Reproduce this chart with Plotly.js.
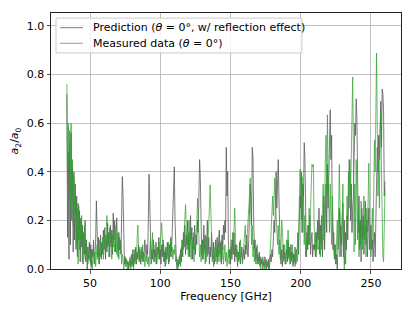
<!DOCTYPE html>
<html>
<head>
<meta charset="utf-8">
<script src="https://cdn.plot.ly/plotly-3.0.1.min.js"></script>
<style>html,body{margin:0;padding:0;background:#fff;}#chart{width:415px;height:311px;}</style>
</head>
<body>
<div id="chart"></div>
<script>
// Frequency grid: 33.5 GHz to 260 GHz, 0.5 GHz step
const freqStart = 33.5;
const freqStep = 0.5;

// Prediction (theta = 0 deg, w/ reflection effect), a2/a0
const prediction = [
  0.72,0.13,0.48,0.04,0.52,0.10,0.56,0.20,0.42,0.07,0.40,0.12,0.35,
  0.08,0.30,0.05,0.27,0.12,0.24,0.03,0.21,0.09,0.18,0.02,0.15,0.06,0.20,0.03,0.12,0.00,0.09,0.04,0.11,
  0.03,0.10,0.01,0.08,0.05,0.12,0.02,0.06,0.12,0.28,0.20,0.05,0.13,0.02,0.08,0.14,0.04,0.11,0.06,0.16,
  0.08,0.17,0.04,0.14,0.07,0.19,0.10,0.15,0.05,0.18,0.09,0.16,0.06,0.23,0.12,0.20,0.07,0.17,0.21,0.10,
  0.05,0.15,0.08,0.12,0.06,0.22,0.38,0.30,0.08,0.02,0.05,0.01,0.04,0.02,0.03,0.00,0.02,0.04,0.01,0.06,
  0.02,0.08,0.01,0.06,0.03,0.09,0.02,0.07,0.04,0.10,0.03,0.08,0.02,0.06,0.09,0.03,0.07,0.05,0.12,0.08,
  0.05,0.10,0.06,0.20,0.39,0.28,0.06,0.02,0.08,0.04,0.12,0.03,0.08,0.05,0.11,0.02,0.09,0.06,0.13,0.04,
  0.08,0.02,0.10,0.05,0.12,0.03,0.07,0.01,0.09,0.04,0.11,0.06,0.02,0.10,0.05,0.13,0.07,0.15,0.25,0.38,
  0.42,0.20,0.06,0.03,0.00,0.04,0.01,0.05,0.02,0.08,0.03,0.12,0.05,0.15,0.09,0.18,0.06,0.14,0.10,0.20,
  0.08,0.15,0.05,0.22,0.12,0.17,0.04,0.13,0.08,0.18,0.06,0.14,0.10,0.20,0.15,0.32,0.45,0.38,0.15,0.06,
  0.12,0.04,0.18,0.08,0.14,0.03,0.10,0.20,0.06,0.13,0.02,0.09,0.05,0.15,0.08,0.04,0.11,0.02,0.07,0.12,
  0.05,0.13,0.03,0.09,0.16,0.06,0.11,0.02,0.14,0.08,0.18,0.12,0.20,0.15,0.50,0.30,0.40,0.12,0.05,0.08,
  0.02,0.09,0.04,0.12,0.06,0.15,0.03,0.10,0.05,0.08,0.01,0.07,0.04,0.11,0.02,0.06,0.09,0.03,0.05,0.08,
  0.04,0.10,0.06,0.14,0.08,0.05,0.12,0.20,0.35,0.30,0.18,0.50,0.46,0.20,0.08,0.12,0.04,0.09,0.02,0.06,
  0.03,0.07,0.01,0.05,0.02,0.04,0.00,0.03,0.01,0.05,0.02,0.00,0.03,0.01,0.04,0.00,0.02,0.06,0.03,0.08,
  0.05,0.12,0.20,0.15,0.32,0.40,0.25,0.38,0.45,0.30,0.12,0.05,0.02,0.08,0.01,0.10,0.04,0.07,0.02,0.05,
  0.08,0.03,0.12,0.05,0.09,0.02,0.10,0.04,0.07,0.01,0.06,0.03,0.09,0.02,0.05,0.08,0.15,0.06,0.20,0.30,
  0.25,0.40,0.15,0.35,0.30,0.52,0.45,0.20,0.05,0.15,0.08,0.18,0.10,0.22,0.06,0.12,0.15,0.05,0.10,0.08,
  0.10,0.05,0.15,0.08,0.20,0.12,0.25,0.06,0.18,0.10,0.22,0.05,0.15,0.30,0.08,0.20,0.35,0.15,0.43,0.25,
  0.35,0.50,0.655,0.45,0.55,0.20,0.08,0.15,0.04,0.10,0.02,0.06,0.00,0.08,0.12,0.25,0.05,0.18,0.10,0.22,
  0.27,0.05,0.20,0.02,0.15,0.08,0.22,0.12,0.30,0.45,0.40,0.20,0.35,0.15,0.25,0.30,0.45,0.60,0.55,0.70,
  0.62,0.40,0.15,0.30,0.08,0.20,0.03,0.25,0.12,0.22,0.06,0.18,0.28,0.10,0.20,0.05,0.15,0.25,0.08,0.12,
  0.18,0.08,0.12,0.03,0.10,0.15,0.05,0.20,0.30,0.50,0.40,0.55,0.45,0.60,0.69,0.50,0.74,0.72,0.65,0.30,0.36
];

// Measured data (theta = 0 deg), a2/a0
const measured = [
  0.76,0.35,0.60,0.42,0.57,0.25,0.60,0.30,0.45,0.18,0.38,0.22,0.30,
  0.28,0.10,0.25,0.02,0.26,0.08,0.20,0.12,0.22,0.03,0.15,0.10,0.18,0.04,0.12,0.06,0.09,0.02,0.07,0.05,
  0.06,0.02,0.08,0.00,0.05,0.09,0.03,0.07,0.01,0.06,0.10,0.04,0.08,0.02,0.12,0.05,0.10,0.07,0.13,0.04,
  0.10,0.14,0.06,0.12,0.22,0.09,0.15,0.05,0.17,0.11,0.13,0.04,0.14,0.09,0.16,0.07,0.12,0.18,0.06,0.13,
  0.15,0.04,0.13,0.08,0.10,0.02,0.06,0.04,0.00,0.03,0.05,0.02,0.04,0.00,0.03,0.01,0.02,0.05,0.00,0.03,
  0.01,0.04,0.00,0.08,0.02,0.06,0.03,0.12,0.18,0.10,0.05,0.09,0.02,0.07,0.04,0.10,0.03,0.06,0.01,0.05,
  0.03,0.06,0.02,0.05,0.01,0.08,0.12,0.04,0.09,0.15,0.06,0.10,0.03,0.07,0.02,0.05,0.09,0.04,0.11,0.06,
  0.10,0.15,0.19,0.12,0.06,0.10,0.03,0.08,0.02,0.05,0.09,0.04,0.11,0.03,0.07,0.12,0.05,0.09,0.04,0.08,
  0.06,0.10,0.03,0.05,0.01,0.00,0.03,0.02,0.06,0.01,0.09,0.05,0.12,0.08,0.15,0.20,0.265,0.18,0.08,0.13,
  0.05,0.20,0.10,0.16,0.04,0.12,0.07,0.15,0.03,0.10,0.06,0.14,0.18,0.29,0.20,0.12,0.05,0.10,0.03,0.08,
  0.04,0.12,0.06,0.09,0.02,0.07,0.13,0.05,0.10,0.18,0.25,0.346,0.22,0.08,0.03,0.06,0.01,0.05,0.09,0.03,
  0.08,0.02,0.10,0.05,0.14,0.03,0.08,0.12,0.04,0.09,0.02,0.06,0.10,0.03,0.07,0.01,0.05,0.08,0.02,0.06,
  0.04,0.12,0.06,0.15,0.08,0.18,0.25,0.15,0.05,0.10,0.02,0.07,0.03,0.08,0.12,0.05,0.09,0.02,0.06,0.10,
  0.12,0.18,0.10,0.08,0.15,0.19,0.22,0.30,0.374,0.25,0.10,0.18,0.05,0.12,0.03,0.08,0.02,0.06,0.10,0.04,
  0.02,0.05,0.03,0.00,0.04,0.02,0.05,0.03,0.01,0.00,0.02,0.04,0.01,0.03,0.00,0.02,0.05,0.10,0.18,0.25,
  0.30,0.22,0.35,0.374,0.28,0.20,0.15,0.10,0.18,0.06,0.12,0.04,0.10,0.20,0.15,0.08,0.03,0.10,0.05,0.02,
  0.12,0.06,0.16,0.04,0.09,0.02,0.07,0.03,0.10,0.05,0.02,0.06,0.01,0.04,0.08,0.03,0.06,0.15,0.28,0.41,
  0.35,0.20,0.38,0.15,0.30,0.10,0.22,0.05,0.12,0.08,0.18,0.10,0.25,0.15,0.25,0.43,0.43,0.42,0.43,0.20,
  0.08,0.15,0.05,0.12,0.18,0.08,0.10,0.20,0.05,0.15,0.08,0.25,0.35,0.12,0.20,0.45,0.55,0.30,0.634,0.40,
  0.25,0.15,0.35,0.20,0.10,0.30,0.15,0.08,0.05,0.10,0.02,0.12,0.20,0.08,0.30,0.43,0.25,0.10,0.05,0.12,
  0.35,0.10,0.00,0.05,0.02,0.15,0.30,0.20,0.40,0.25,0.45,0.30,0.55,0.65,0.79,0.50,0.07,0.35,0.10,0.45,
  0.30,0.12,0.25,0.05,0.20,0.10,0.28,0.15,0.08,0.22,0.30,0.12,0.18,0.05,0.25,0.15,0.32,0.435,0.20,0.10,
  0.05,0.15,0.25,0.10,0.35,0.53,0.40,0.70,0.888,0.60,0.30,0.45,0.25,0.55,0.65,0.40,0.20,0.05,0.03,0.15,0.33
];

const seriesNames = [
  'Prediction (<i>θ</i> = 0°, w/ reflection effect)',
  'Measured data (<i>θ</i> = 0°)'
];
const seriesColors = ['rgba(90,90,90,0.8)', 'rgba(44,160,44,0.7)'];
const xTicks = [50, 100, 150, 200, 250];
const yTicks = [0.0, 0.2, 0.4, 0.6, 0.8, 1.0];

const freq = prediction.map((_, i) => freqStart + i * freqStep);
const seriesData = [prediction, measured];

const traces = seriesData.map((ys, k) => ({
  x: freq, y: ys, type: 'scatter', mode: 'lines',
  name: seriesNames[k], showlegend: false,
  line: {color: seriesColors[k], width: 1}
}));

// Legend box drawn in paper coordinates (matplotlib-style, upper left)
const FONT = 'DejaVu Sans';
const legRows = [0.9426, 0.8816];
const shapes = [
  {type: 'rect', xref: 'paper', yref: 'paper', x0: 0.0143, x1: 0.717, y0: 0.844, y1: 0.980,
   fillcolor: 'rgba(255,255,255,0.8)', line: {color: '#cccccc', width: 1}, layer: 'above'}
];
const annotations = [];
legRows.forEach((yy, k) => {
  shapes.push({type: 'line', xref: 'paper', yref: 'paper', x0: 0.0257, x1: 0.0914, y0: yy, y1: yy,
    line: {color: seriesColors[k], width: 1}, layer: 'above'});
  annotations.push({xref: 'paper', yref: 'paper', x: 0.1143, y: yy, xanchor: 'left', yanchor: 'middle',
    text: seriesNames[k], showarrow: false, font: {family: FONT, size: 11, color: '#000'}});
});

const axisCommon = {
  showline: true, linecolor: '#222', linewidth: 1, mirror: true,
  ticks: 'outside', ticklen: 3.5, tickwidth: 0.8, tickcolor: '#222',
  showgrid: true, gridcolor: '#b0b0b0', gridwidth: 0.8,
  zeroline: false,
  tickfont: {family: FONT, size: 11, color: '#000'}
};

const layout = {
  width: 415, height: 311,
  margin: {l: 51, r: 14, t: 13, b: 42},
  paper_bgcolor: '#fff', plot_bgcolor: '#fff',
  font: {family: FONT, size: 11, color: '#000'},
  showlegend: false,
  shapes: shapes,
  annotations: annotations,
  xaxis: Object.assign({}, axisCommon, {
    range: [22.2, 271.4], tickmode: 'array', tickvals: xTicks,
    ticktext: xTicks.map(String),
    title: {text: 'Frequency [GHz]', font: {family: FONT, size: 11}, standoff: 3}
  }),
  yaxis: Object.assign({}, axisCommon, {
    range: [0, 1.053], tickmode: 'array', tickvals: yTicks,
    ticktext: yTicks.map(v => v.toFixed(1)),
    title: {text: '<i>a</i><sub>2</sub>/<i>a</i><sub>0</sub>', font: {family: FONT, size: 11}, standoff: 5}
  })
};

Plotly.newPlot('chart', traces, layout, {displayModeBar: false, staticPlot: true});
</script>
</body>
</html>
